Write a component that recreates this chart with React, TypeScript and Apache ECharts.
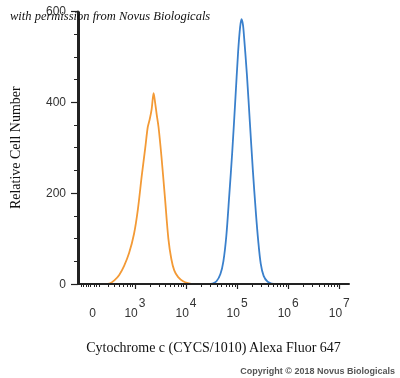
import React, { useEffect, useRef } from "react";
import * as echarts from "echarts";

// x positions are in "decade" units of the biexponential axis (3 = 10^3)
const orangeX = [1.885, 2.404, 2.5, 2.596, 2.692, 2.788, 2.885, 2.981, 3.058, 3.135, 3.202, 3.25, 3.288, 3.327, 3.365, 3.394, 3.423, 3.462, 3.519, 3.587, 3.654, 3.712, 3.769, 3.846, 3.942, 4.038, 4.15, 7.19];
const orangeY = [0, 0, 1, 8, 20, 40, 68, 110, 165, 240, 300, 345, 362, 385, 420, 400, 375, 345, 280, 190, 100, 55, 30, 15, 6, 2, 0, 0];

const blueX = [1.885, 4.423, 4.519, 4.596, 4.673, 4.731, 4.788, 4.846, 4.904, 4.962, 5.019, 5.058, 5.087, 5.115, 5.135, 5.192, 5.25, 5.308, 5.365, 5.413, 5.462, 5.519, 5.596, 5.673, 5.769, 7.19];
const blueY = [0, 0, 1, 6, 22, 50, 105, 195, 290, 400, 510, 565, 583, 570, 545, 460, 355, 250, 160, 95, 45, 18, 5, 1, 0, 0];

const xMin = 1.885;
const xMax = 7.19;
const zeroPos = 2.173;
const majorDecades = [3, 4, 5, 6, 7];
const linearTicks = [1.94, 1.99, 2.04, 2.09, 2.13, 2.21, 2.25];
const minorFactors = [2, 3, 4, 5, 6, 7, 8, 9];
const minorDecades = [2, 3, 4, 5, 6];

const yTicks = { min: 0, max: 600, interval: 200 };

export default function App() {
  const ref = useRef<HTMLDivElement>(null);
  useEffect(() => {
    if (!ref.current) return;
    const chart = echarts.init(ref.current, null, { renderer: "svg" });
    const minorTicks: number[] = [...linearTicks];
    minorDecades.forEach((d) => minorFactors.forEach((f) => minorTicks.push(d + Math.log10(f))));
    const zip = (xs: number[], ys: number[]) => xs.map((x, i) => [x, ys[i]]);
    const axisColor = "#222";
    chart.setOption({
      animation: false,
      grid: { left: 73, right: 51, top: 11.4, bottom: 94 },
      xAxis: [
        {
          type: "value",
          min: xMin,
          max: xMax,
          position: "bottom",
          z: 10,
          name: "Cytochrome c (CYCS/1010) Alexa Fluor 647",
          nameLocation: "middle",
          nameGap: 56,
          nameTextStyle: { fontFamily: "Liberation Serif", fontSize: 14, color: "#111" },
          axisLine: { show: true, onZero: false, lineStyle: { color: axisColor, width: 2 } },
          axisTick: { show: true, inside: false, length: 5, customValues: majorDecades, lineStyle: { color: axisColor, width: 1.2 } },
          axisLabel: {
            customValues: [zeroPos, ...majorDecades],
            margin: 13,
            formatter: (v: number) => (v < 2.5 ? "{b|0}" : `{b|10}{e|${Math.round(v)}}`),
            rich: {
              b: { fontSize: 12, color: "#333", lineHeight: 22, verticalAlign: "bottom" },
              e: { fontSize: 12, color: "#333", lineHeight: 22, verticalAlign: "top", padding: [0, 0, 0, 1] },
            },
          },
          splitLine: { show: false },
        },
        {
          type: "value",
          min: xMin,
          max: xMax,
          position: "bottom",
          z: 10,
          axisLine: { show: false, onZero: false },
          axisTick: { show: true, inside: false, length: 3, customValues: minorTicks, lineStyle: { color: axisColor, width: 1 } },
          axisLabel: { show: false },
          splitLine: { show: false },
        },
      ],
      yAxis: {
        type: "value",
        min: yTicks.min,
        max: yTicks.max,
        interval: yTicks.interval,
        z: 10,
        name: "Relative Cell Number",
        nameLocation: "middle",
        nameGap: 56,
        nameRotate: 90,
        nameTextStyle: { fontFamily: "Liberation Serif", fontSize: 14, color: "#111" },
        axisLine: { show: true, onZero: false, lineStyle: { color: axisColor, width: 2 } },
        axisTick: { show: true, inside: false, length: 7, lineStyle: { color: axisColor, width: 1.2 } },
        minorTick: { show: true, splitNumber: 4, length: 4, lineStyle: { color: axisColor, width: 1 } },
        axisLabel: { margin: 12, fontSize: 12, color: "#333" },
        splitLine: { show: false },
      },
      series: [
        {
          type: "line",
          data: zip(orangeX, orangeY),
          showSymbol: false,
          smooth: 0.3,
          z: 2,
          lineStyle: { color: "#f39a36", width: 1.8 },
          markLine: {
            silent: true,
            symbol: "none",
            label: { show: false },
            lineStyle: { color: axisColor, width: 2, type: "solid" },
            data: [{ xAxis: xMin }, { yAxis: 0 }],
          },
        },
        {
          type: "line",
          data: zip(blueX, blueY),
          showSymbol: false,
          smooth: 0.3,
          z: 3,
          lineStyle: { color: "#3a80cc", width: 1.8 },
        },
      ],
      graphic: [
        {
          type: "text",
          left: 10,
          top: 9,
          z: 100,
          style: {
            text: "with permission from Novus Biologicals",
            font: "italic 12.5px 'Liberation Serif'",
            fill: "#111",
          },
        },
        {
          type: "text",
          right: 5,
          top: 366,
          style: {
            text: "Copyright © 2018 Novus Biologicals",
            font: "bold 9px 'Liberation Sans'",
            fill: "#555",
          },
        },
      ],
    });
    return () => chart.dispose();
  }, []);
  return <div ref={ref} style={{ position: "fixed", left: 0, top: 0, width: 400, height: 378 }} />;
}
